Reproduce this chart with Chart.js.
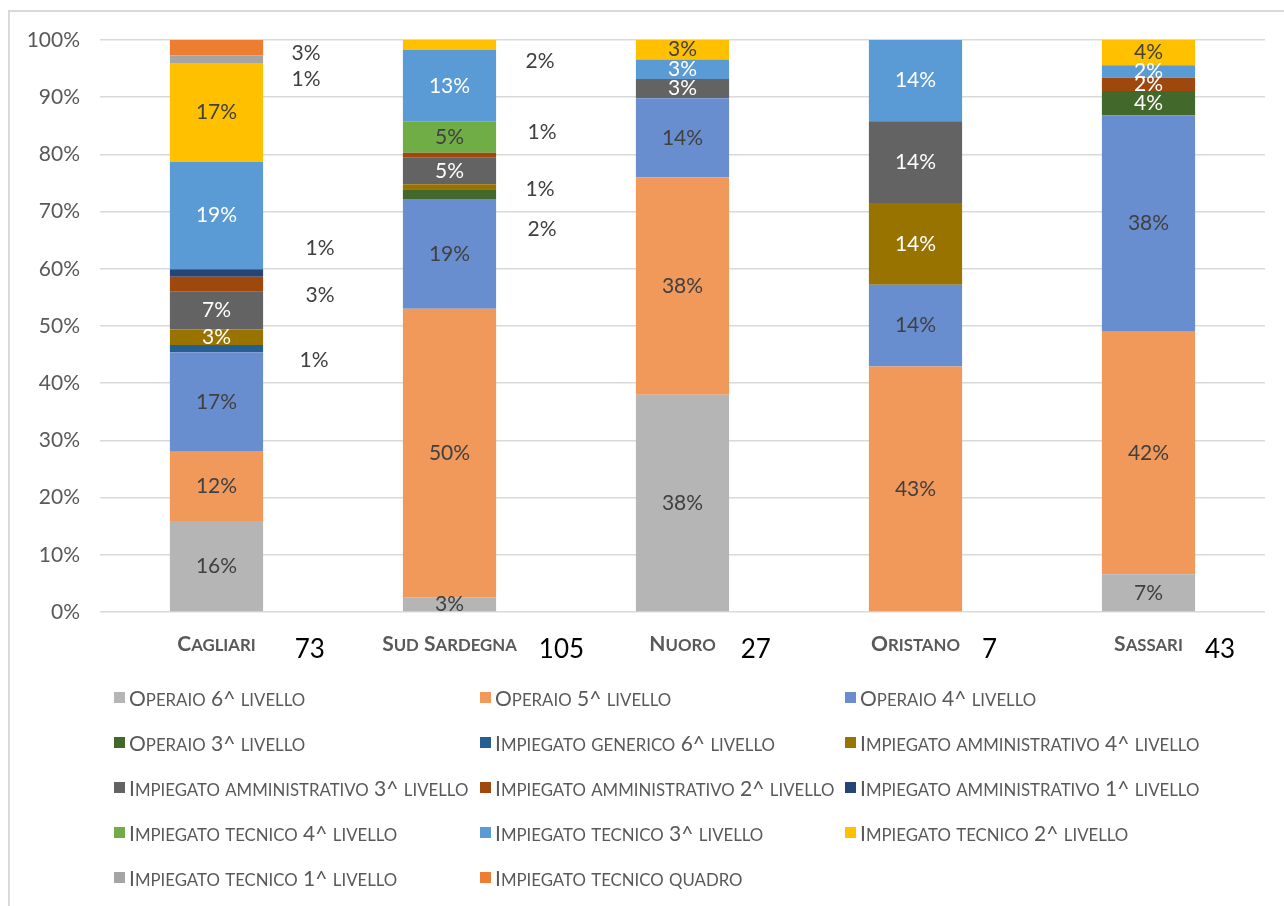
<!DOCTYPE html>
<html>
<head>
<meta charset="utf-8">
<script src="https://cdn.jsdelivr.net/npm/chart.js@4.4.1/dist/chart.umd.min.js"></script>
<style>
  html, body { margin: 0; padding: 0; background: #fff; width: 1284px; height: 906px; overflow: hidden; }
  #frame { position: absolute; left: 8px; top: 10px; width: 1320px; height: 940px;
           border-left: 2px solid #d9d9d9; border-top: 2px solid #d9d9d9; }
  #wrap { position: absolute; left: 0; top: 0; width: 1284px; height: 680px; }
  #legend { position: absolute; left: 114px; top: 675px; display: grid;
            grid-template-columns: 366px 365px 365px; grid-auto-rows: 45px; }
  .item { display: flex; align-items: center; font: 21px Lato, sans-serif;
          color: #595959; white-space: pre; }
  .sm { text-transform: uppercase; font-size: 0.8em; }
  .sw { display: inline-block; width: 11px; height: 11px; margin-right: 4px; flex: none; }
</style>
</head>
<body>
<div id="frame"></div>
<div id="wrap"><canvas id="chart" width="1284" height="680"></canvas></div>
<div id="legend"></div>
<script>
const categories = ["Cagliari", "Sud Sardegna", "Nuoro", "Oristano", "Sassari"];
const counts = [73, 105, 27, 7, 43];

const seriesNames = [
  "Operaio 6^ livello",
  "Operaio 5^ livello",
  "Operaio 4^ livello",
  "Operaio 3^ livello",
  "Impiegato generico 6^ livello",
  "Impiegato amministrativo 4^ livello",
  "Impiegato amministrativo 3^ livello",
  "Impiegato amministrativo 2^ livello",
  "Impiegato amministrativo 1^ livello",
  "Impiegato tecnico 4^ livello",
  "Impiegato tecnico 3^ livello",
  "Impiegato tecnico 2^ livello",
  "Impiegato tecnico 1^ livello",
  "Impiegato tecnico quadro"
];

// percentages per province
const operaio6 = [15.9, 2.6, 38.0, 0, 6.6];
const operaio5 = [12.1, 50.4, 38.0, 42.9, 42.4];
const operaio4 = [17.4, 19.2, 13.8, 14.3, 37.8];
const operaio3 = [0, 1.7, 0, 0, 4.3];
const generico6 = [1.3, 0, 0, 0, 0];
const amm4 = [2.7, 0.9, 0, 14.3, 0];
const amm3 = [6.6, 4.6, 3.4, 14.3, 0];
const amm2 = [2.6, 0.9, 0, 0, 2.3];
const amm1 = [1.3, 0, 0, 0, 0];
const tec4 = [0, 5.4, 0, 0, 0];
const tec3 = [18.8, 12.6, 3.4, 14.2, 2.2];
const tec2 = [17.3, 1.7, 3.4, 0, 4.4];
const tec1 = [1.3, 0, 0, 0, 0];
const quadro = [2.7, 0, 0, 0, 0];

const seriesValues = [operaio6, operaio5, operaio4, operaio3, generico6, amm4, amm3, amm2, amm1, tec4, tec3, tec2, tec1, quadro];

const seriesColors = ["#b5b5b5", "#f1985b", "#698ed0", "#43682b", "#255e91", "#997300",
  "#636363", "#9e480e", "#264478", "#70ad47", "#5b9bd5", "#ffc000", "#a5a5a5", "#ed7d31"];
const labelColors = ["#404040", "#404040", "#404040", "#fff", "#fff", "#fff",
  "#fff", "#fff", "#fff", "#404040", "#fff", "#404040", "#404040", "#fff"];

// small segments labelled beside the bar: [series, category, dx from bar edge, dy from segment middle]
const outsideLabels = [
  [13, 0, 43, 6], [12, 0, 43, 20], [8, 0, 57, -25], [7, 0, 57, 11], [4, 0, 51, 12],
  [11, 1, 44, 16], [7, 1, 46, -23], [5, 1, 44, 3], [3, 1, 46, 35]
];
const countGaps = [39, 22, 25, 22, 22];

const FONT = "Lato, sans-serif";

// split text into runs so lowercase letters can be drawn as small capitals
function scRuns(text) {
  const runs = [];
  for (const ch of text) {
    const small = ch !== ch.toUpperCase();
    const last = runs[runs.length - 1];
    if (last && last.small === small) last.s += ch;
    else runs.push({ s: ch, small });
  }
  return runs;
}

function drawSmallCaps(ctx, text, cx, y, size, weight) {
  const runs = scRuns(text);
  const fontFor = r => weight + " " + (r.small ? size * 0.8 : size) + "px " + FONT;
  let w = 0;
  runs.forEach(r => { ctx.font = fontFor(r); w += ctx.measureText(r.s.toUpperCase()).width; });
  let x = cx - w / 2;
  ctx.textAlign = "left";
  ctx.textBaseline = "alphabetic";
  runs.forEach(r => {
    ctx.font = fontFor(r);
    const t = r.s.toUpperCase();
    ctx.fillText(t, x, y);
    x += ctx.measureText(t).width;
  });
  return w;
}

const segmentLabels = {
  id: "segmentLabels",
  afterDatasetsDraw(chart) {
    const ctx = chart.ctx;
    ctx.save();
    ctx.font = "21px " + FONT;
    ctx.textAlign = "center";
    ctx.textBaseline = "middle";
    chart.data.datasets.forEach((ds, i) => {
      chart.getDatasetMeta(i).data.forEach((bar, j) => {
        const v = ds.data[j];
        if (!v) return;
        const txt = Math.round(v) + "%";
        const mid = (bar.y + bar.base) / 2;
        const out = outsideLabels.find(o => o[0] === i && o[1] === j);
        if (out) {
          ctx.fillStyle = "#404040";
          ctx.fillText(txt, bar.x + bar.width / 2 + out[2], mid + out[3]);
        } else {
          ctx.fillStyle = labelColors[i];
          ctx.fillText(txt, bar.x, mid);
        }
      });
    });
    ctx.restore();
  }
};

const categoryLabels = {
  id: "categoryLabels",
  afterDraw(chart) {
    const ctx = chart.ctx;
    const xs = chart.scales.x;
    ctx.save();
    categories.forEach((c, j) => {
      const x = xs.getPixelForValue(j);
      ctx.fillStyle = "#595959";
      const w = drawSmallCaps(ctx, c, x, 651, 21, "bold");
      ctx.font = "26px " + FONT;
      ctx.fillStyle = "#000";
      ctx.textAlign = "left";
      ctx.textBaseline = "middle";
      ctx.fillText(String(counts[j]), x + w / 2 + countGaps[j], 650);
    });
    ctx.restore();
  }
};

new Chart(document.getElementById("chart"), {
  type: "bar",
  data: {
    labels: categories,
    datasets: seriesNames.map((name, i) => ({
      label: name,
      data: seriesValues[i],
      backgroundColor: seriesColors[i],
      borderWidth: 0,
      barPercentage: 0.4,
      categoryPercentage: 1
    }))
  },
  options: {
    responsive: false,
    devicePixelRatio: 1,
    animation: false,
    layout: { padding: { top: 40, right: 19, left: 0, bottom: 0 } },
    plugins: { legend: { display: false }, tooltip: { enabled: false } },
    scales: {
      x: {
        stacked: true,
        grid: { display: false },
        border: { display: false },
        ticks: { display: false },
        afterFit(scale) { scale.height = 68; }
      },
      y: {
        stacked: true,
        min: 0,
        max: 100,
        border: { display: false },
        grid: { color: "#d9d9d9", lineWidth: 1.5, drawTicks: false },
        ticks: {
          stepSize: 10,
          padding: 20,
          color: "#595959",
          font: { family: FONT, size: 21 },
          callback: v => v + "%"
        },
        afterFit(scale) { scale.width = 100; }
      }
    }
  },
  plugins: [segmentLabels, categoryLabels]
});

const legendEl = document.getElementById("legend");
seriesNames.forEach((name, i) => {
  const item = document.createElement("div");
  item.className = "item";
  const sw = document.createElement("span");
  sw.className = "sw";
  sw.style.background = seriesColors[i];
  item.appendChild(sw);
  const txt = document.createElement("span");
  scRuns(name).forEach(r => {
    if (r.small) {
      const s = document.createElement("span");
      s.className = "sm";
      s.textContent = r.s;
      txt.appendChild(s);
    } else {
      txt.appendChild(document.createTextNode(r.s));
    }
  });
  item.appendChild(txt);
  legendEl.appendChild(item);
});
</script>
</body>
</html>
